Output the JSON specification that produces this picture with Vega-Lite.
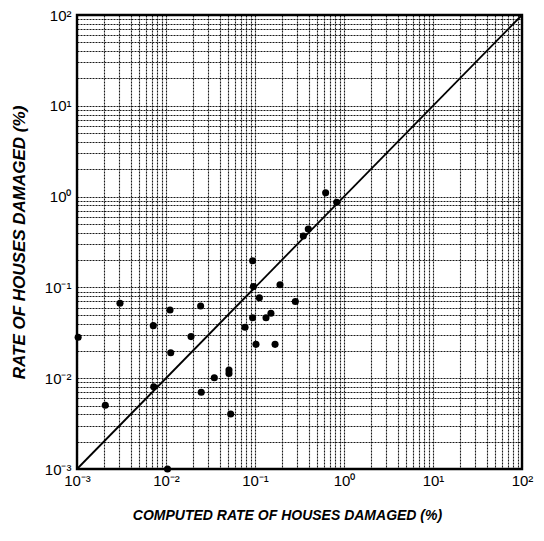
{
  "$schema": "https://vega.github.io/schema/vega-lite/v6.json",
  "width": 445,
  "height": 454,
  "autosize": {"type": "none"},
  "padding": {"left": 77, "top": 15, "right": 22, "bottom": 72},
  "background": "white",
  "config": {
    "view": {"stroke": "black", "strokeWidth": 2.4},
    "font": "Liberation Sans"
  },
  "layer": [
    {
      "data": {"values": [{"cx": 0.001, "cy": 0.001}, {"cx": 100, "cy": 100}]},
      "mark": {"type": "line", "color": "black", "strokeWidth": 1.8},
      "encoding": {
        "x": {"field": "cx", "type": "quantitative", "scale": {"type": "log", "domain": [0.001, 100], "nice": false},
          "axis": {
            "values": [0.001,0.002,0.003,0.004,0.005,0.006,0.007,0.008,0.009,0.01,0.02,0.03,0.04,0.05,0.06,0.07,0.08,0.09,0.1,0.2,0.3,0.4,0.5,0.6,0.7,0.8,0.9,1,2,3,4,5,6,7,8,9,10,20,30,40,50,60,70,80,90,100],
            "labelExpr": "abs(log(datum.value)/LN10 - round(log(datum.value)/LN10)) < 0.001 ? '10' + ['⁻³','⁻²','⁻¹','⁰','¹','²'][round(log(datum.value)/LN10)+3] : ''",
            "labelOverlap": false,
            "labelFontSize": 15,
            "labelColor": "black",
            "labelPadding": 4,
            "labelBound": false,
            "labelFlush": false,
            "ticks": false,
            "domain": false,
            "grid": true,
            "gridColor": "black",
            "gridDash": [2, 1],
            "gridWidth": 1.1,
            "gridOpacity": 0.9,
            "title": "COMPUTED RATE OF HOUSES DAMAGED (%)",
            "titleFont": "Liberation Sans",
            "titleFontSize": 14,
            "titleFontWeight": "bold",
            "titleFontStyle": "italic",
            "titleColor": "black",
            "titlePadding": 20,
            "titleX": 210
          }
        },
        "y": {"field": "cy", "type": "quantitative", "scale": {"type": "log", "domain": [0.001, 100], "nice": false},
          "axis": {
            "values": [0.001,0.002,0.003,0.004,0.005,0.006,0.007,0.008,0.009,0.01,0.02,0.03,0.04,0.05,0.06,0.07,0.08,0.09,0.1,0.2,0.3,0.4,0.5,0.6,0.7,0.8,0.9,1,2,3,4,5,6,7,8,9,10,20,30,40,50,60,70,80,90,100],
            "labelExpr": "abs(log(datum.value)/LN10 - round(log(datum.value)/LN10)) < 0.001 ? '10' + ['⁻³','⁻²','⁻¹','⁰','¹','²'][round(log(datum.value)/LN10)+3] : ''",
            "labelOverlap": false,
            "labelFontSize": 15,
            "labelColor": "black",
            "labelPadding": 6,
            "labelBound": false,
            "labelFlush": false,
            "ticks": false,
            "domain": false,
            "grid": true,
            "gridColor": "black",
            "gridDash": [2, 1],
            "gridWidth": 1.1,
            "gridOpacity": 0.9,
            "title": "RATE OF HOUSES DAMAGED (%)",
            "titleFont": "Liberation Sans",
            "titleFontSize": 17,
            "titleFontWeight": "bold",
            "titleFontStyle": "italic",
            "titleColor": "black",
            "titlePadding": 16
          }
        }
      }
    },
    {
      "data": {"values": [
        {"computed": 0.094, "observed": 0.197},
        {"computed": 0.096, "observed": 0.102},
        {"computed": 0.191, "observed": 0.107},
        {"computed": 0.112, "observed": 0.077},
        {"computed": 0.284, "observed": 0.070},
        {"computed": 0.00304, "observed": 0.0668},
        {"computed": 0.0111, "observed": 0.0564},
        {"computed": 0.0245, "observed": 0.0624},
        {"computed": 0.0072, "observed": 0.0379},
        {"computed": 0.094, "observed": 0.0463},
        {"computed": 0.133, "observed": 0.0463},
        {"computed": 0.151, "observed": 0.0519},
        {"computed": 0.0773, "observed": 0.0364},
        {"computed": 0.00103, "observed": 0.0282},
        {"computed": 0.0191, "observed": 0.0287},
        {"computed": 0.1026, "observed": 0.0236},
        {"computed": 0.168, "observed": 0.0236},
        {"computed": 0.0113, "observed": 0.0191},
        {"computed": 0.051, "observed": 0.0123},
        {"computed": 0.051, "observed": 0.0113},
        {"computed": 0.0349, "observed": 0.0101},
        {"computed": 0.00728, "observed": 0.00805},
        {"computed": 0.0249, "observed": 0.0070},
        {"computed": 0.00208, "observed": 0.00503},
        {"computed": 0.0533, "observed": 0.00404},
        {"computed": 0.0104, "observed": 0.001},
        {"computed": 0.622, "observed": 1.10},
        {"computed": 0.828, "observed": 0.865},
        {"computed": 0.397, "observed": 0.44},
        {"computed": 0.349, "observed": 0.368}
      ]},
      "mark": {"type": "point", "filled": true, "color": "black", "opacity": 1, "size": 50},
      "encoding": {
        "x": {"field": "computed", "type": "quantitative"},
        "y": {"field": "observed", "type": "quantitative"}
      }
    }
  ]
}
